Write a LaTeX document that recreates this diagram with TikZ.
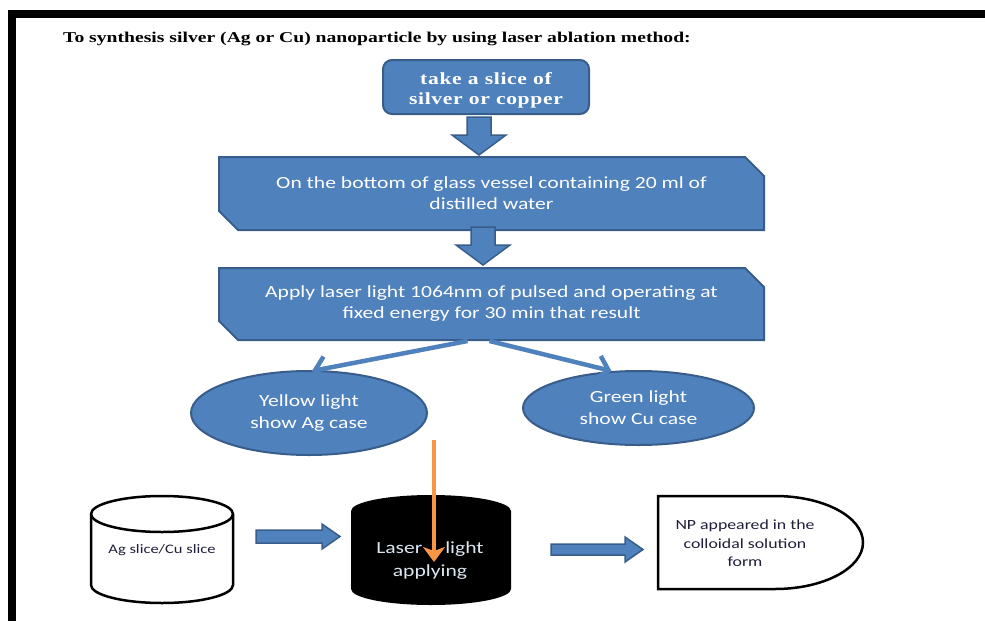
\documentclass[tikz,border=0pt]{standalone}
\usepackage{fontspec}
\setmainfont{Carlito}[FakeStretch=1.27]
\newfontfamily\headfont{Liberation Serif}[FakeStretch=1.31]
\newfontfamily\slicefont{Liberation Serif}[FakeStretch=1.27,LetterSpace=4]
\usetikzlibrary{shapes.misc,shapes.geometric,arrows.meta,calc,backgrounds}
\definecolor{fillblue}{HTML}{4F81BD}
\definecolor{edgeblue}{HTML}{385D8A}
\definecolor{beamorange}{HTML}{F79646}
\definecolor{paletext}{HTML}{DCE6F2}
\definecolor{inkdark}{HTML}{1F1F3A}
\begin{document}
\begin{tikzpicture}[x=1pt,y=-1pt,
  bluefill/.style={fill=fillblue,draw=edgeblue,line width=2pt,inner sep=0pt,text=white,align=center},
  cutbox/.style={bluefill,chamfered rectangle,chamfered rectangle corners={north east,south west},
    chamfered rectangle xsep=10pt,chamfered rectangle ysep=9pt,
    minimum width=545pt,minimum height=73pt,font=\fontsize{17}{21}\selectfont},
  oval/.style={bluefill,ellipse,font=\fontsize{17}{22}\selectfont},
  blockarr/.style={fill=fillblue,draw=edgeblue,line width=1.5pt,line join=miter},
  splitarr/.style={draw=fillblue,line width=4.5pt,-{Straight Barb[length=11pt,width=24pt]}},
  beamarr/.style={draw=beamorange,line width=4.5pt,-{Stealth[length=15pt,width=22pt,inset=4pt]}},
  slab/.style={line width=2.5pt},
]
\useasboundingbox (0,0) rectangle (985,621);
% page frame
\fill[black] (8,10) rectangle (985,18);
\fill[black] (8,10) rectangle (16,621);

% heading
\node[anchor=base west,inner sep=0pt,text=black,font=\headfont\bfseries\fontsize{15}{18}\selectfont]
  (title) at (63,42) {To synthesis silver (Ag or Cu) nanoparticle by using laser ablation method:};

% process steps
\node[bluefill,rounded corners=9pt,minimum width=206pt,minimum height=54pt] (b1) at (486,87) {};
\node[inner sep=0pt,text=white,align=center,font=\slicefont\bfseries\fontsize{17}{20}\selectfont]
  (b1text) at ($(b1.center)+(0,3)$) {take a slice of\\silver or copper};
\node[cutbox] (b2) at (491.5,193.5) {On the bottom of glass vessel containing 20 ml of\\distilled water};
\node[cutbox,minimum height=72pt] (b3) at (491.5,304) {Apply laser light 1064nm of pulsed and operating at\\fixed energy for 30 min that result};

% outcomes
\node[oval,minimum width=236pt,minimum height=84pt] (e1) at (309,413) {Yellow light\\show Ag case};
\node[oval,minimum width=231pt,minimum height=74pt] (e2) at (638.5,408) {Green light\\show Cu case};

% block arrows between steps
\draw[blockarr] let \p1=($(b1.south)+(-7,2)$), \p2=(b2.north) in
  (\x1-12pt,\y1) -- (\x1+12pt,\y1) -- (\x1+12pt,\y2+21pt) -- (\x1+27pt,\y2+21pt)
  -- (\x1,\y2+1pt) -- (\x1-27pt,\y2+21pt) -- (\x1-12pt,\y2+21pt) -- cycle;
\draw[blockarr] let \p1=($(b2.south)+(-8.5,-4)$), \p2=(b3.north) in
  (\x1-12pt,\y1) -- (\x1+12pt,\y1) -- (\x1+12pt,\y2+22pt) -- (\x1+27pt,\y2+22pt)
  -- (\x1,\y2+2pt) -- (\x1-27pt,\y2+22pt) -- (\x1-12pt,\y2+22pt) -- cycle;

% split to the two cases
\draw[splitarr] ($(b3.south)+(-24,0)$) -- ($(e1.north)+(3,1)$);
\draw[splitarr] ($(b3.south)+(-2,0)$) -- ($(e2.north)+(-27,1)$);

% apparatus row
\node[inner sep=0pt,text=inkdark,font=\fontsize{13}{15}\selectfont] (c1) at (162,550) {Ag slice/Cu slice};
\node[inner sep=0pt,text=paletext,align=center,font=\fontsize{17}{23}\selectfont] (c2) at (430,561)
  {Laser\hspace{18pt} light\\applying};
\node[inner sep=0pt,text=inkdark,align=center,font=\fontsize{14}{18.5}\selectfont] (np) at (745,543.5)
  {NP appeared in the\\colloidal solution\\form};

\begin{scope}[on background layer]
  % metal slice cylinder
  \draw[slab,fill=white] let \p1=(c1.center) in
    (\x1-71pt,\y1+36pt) -- (\x1-71pt,\y1-35pt)
    arc[start angle=180,end angle=360,x radius=71pt,y radius=18pt]
    -- (\x1+71pt,\y1+36pt)
    arc[start angle=0,end angle=180,x radius=71pt,y radius=18pt] -- cycle;
  \draw[slab] let \p1=(c1.center) in
    (\x1-71pt,\y1+36pt) arc[start angle=180,end angle=360,x radius=71pt,y radius=18pt];
  % vessel under the laser
  \fill[black] let \p1=(c2.center) in
    (\x1-79pt,\y1+50pt) -- (\x1-79pt,\y1-28pt)
    arc[start angle=180,end angle=360,x radius=80pt,y radius=16pt]
    -- (\x1+81pt,\y1+50pt)
    arc[start angle=0,end angle=180,x radius=80pt,y radius=16pt] -- cycle;
  % colloid container
  \draw[slab,fill=white] let \p1=(np.center) in
    (\x1-87pt,\y1+47.5pt) -- (\x1+30pt,\y1+47.5pt)
    arc[start angle=90,end angle=-90,x radius=88pt,y radius=46.5pt]
    -- (\x1-87pt,\y1-45.5pt) -- cycle;
\end{scope}

% block arrows along the apparatus row
\draw[blockarr] let \p1=(c1.center), \p2=(c2.center) in
  (\x1+94pt,\y1+20pt) -- (\x2-108pt,\y1+20pt) -- (\x2-108pt,\y1+26pt) -- (\x2-90pt,\y1+13.5pt)
  -- (\x2-108pt,\y1+1pt) -- (\x2-108pt,\y1+7pt) -- (\x1+94pt,\y1+7pt) -- cycle;
\draw[blockarr] let \p1=(c2.center), \p2=(np.center) in
  (\x1+121pt,\y1+17pt) -- (\x2-120pt,\y1+17pt) -- (\x2-120pt,\y1+24pt) -- (\x2-102pt,\y1+11.5pt)
  -- (\x2-120pt,\y1-1pt) -- (\x2-120pt,\y1+6pt) -- (\x1+121pt,\y1+6pt) -- cycle;

% laser beam
\coordinate (beamtop) at (434,440);
\draw[beamarr] (beamtop) -- ($(beamtop |- c2.center)+(0,1)$);
\end{tikzpicture}
\end{document}
